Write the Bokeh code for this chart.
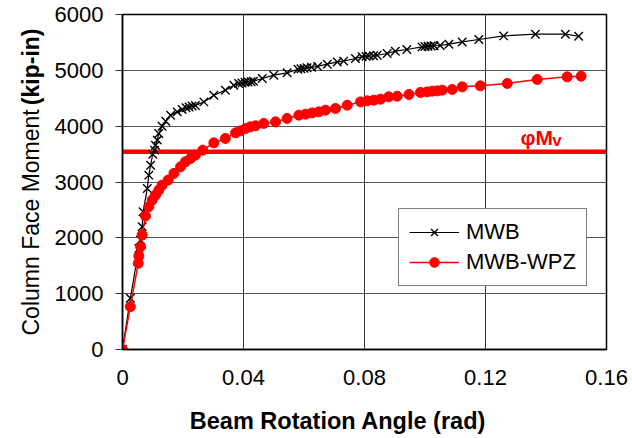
import math
from bokeh.plotting import figure
from bokeh.layouts import row, column
from bokeh.models import Range1d, FixedTicker, NumeralTickFormatter, Span, Label, Legend, LegendItem
from bokeh.core.properties import value
from bokeh.embed import file_html
from bokeh.resources import INLINE

# ---- data ----
mwb_rot = [0, 0.0026, 0.0054, 0.0060, 0.0065, 0.0068, 0.0082, 0.0087, 0.0093, 0.0100,
           0.0106, 0.0109, 0.0115, 0.0120, 0.0131, 0.0143, 0.0159, 0.0181, 0.0197, 0.0210,
           0.0220, 0.0230, 0.0241, 0.0269, 0.0302, 0.0340, 0.0368, 0.0384, 0.0395, 0.0405,
           0.0415, 0.0425, 0.0433, 0.0462, 0.0500, 0.0544, 0.0580, 0.0590, 0.0600, 0.0610,
           0.0625, 0.0645, 0.0677, 0.0710, 0.0731, 0.0770, 0.0792, 0.0805, 0.0815, 0.0830,
           0.0842, 0.0875, 0.0902, 0.0940, 0.0990, 0.1000, 0.1010, 0.1020, 0.1030, 0.1050,
           0.1079, 0.1123, 0.1178, 0.1260, 0.1365, 0.1464, 0.1508]
mwb_mom = [0, 916, 1811, 1960, 2198, 2466, 2885, 3123, 3302, 3499,
           3571, 3660, 3750, 3870, 4000, 4090, 4197, 4256, 4299, 4330,
           4345, 4360, 4370, 4435, 4555, 4645, 4734, 4765, 4775, 4785,
           4790, 4795, 4805, 4854, 4913, 4955, 5020, 5030, 5035, 5045,
           5055, 5070, 5110, 5151, 5165, 5212, 5245, 5250, 5255, 5260,
           5270, 5301, 5343, 5373, 5420, 5425, 5430, 5435, 5440, 5445,
           5468, 5509, 5552, 5617, 5647, 5647, 5611]

wpz_rot = [0, 0.0026, 0.0052, 0.0054, 0.0060, 0.0065, 0.0076, 0.0087, 0.0098, 0.0109,
           0.0120, 0.0131, 0.0151, 0.0170, 0.0192, 0.0208, 0.0225, 0.0241, 0.0265, 0.0302,
           0.0340, 0.0374, 0.0390, 0.0407, 0.0423, 0.0440, 0.0467, 0.0506, 0.0544, 0.0583,
           0.0605, 0.0627, 0.0649, 0.0671, 0.0704, 0.0743, 0.0787, 0.0809, 0.0831, 0.0853,
           0.0880, 0.0908, 0.0947, 0.0985, 0.1007, 0.1024, 0.1040, 0.1057, 0.1090, 0.1123,
           0.1183, 0.1272, 0.1371, 0.1470, 0.1516]
wpz_mom = [0, 766, 1543, 1673, 1840, 2049, 2390, 2556, 2676, 2765,
           2855, 2944, 3034, 3154, 3272, 3361, 3422, 3481, 3570, 3701,
           3780, 3880, 3916, 3959, 3988, 4006, 4049, 4077, 4138, 4197,
           4215, 4238, 4256, 4287, 4317, 4376, 4435, 4453, 4466, 4484,
           4525, 4537, 4568, 4604, 4614, 4627, 4632, 4645, 4657, 4704,
           4722, 4765, 4836, 4883, 4895]

phi_My = 3540
x_ticks = [0, 0.04, 0.08, 0.12, 0.16]
y_ticks = [0, 1000, 2000, 3000, 4000, 5000, 6000]
series_names = ["MWB", "MWB-WPZ"]
x_title = "Beam Rotation Angle (rad)"
y_title_normal = "Column Face Moment"
y_title_bold = "(kip-in)"

FONT = "Liberation Sans"
W, H = 632, 438
LEFT_W = 45
BOTTOM_H = 43
MAIN_H = H - BOTTOM_H
TOP_B, BOT_B = 14, 46
FRAME_H = MAIN_H - TOP_B - BOT_B
FRAME_BOTTOM = TOP_B + FRAME_H  # page y of the frame bottom

# ---- main plot ----
p = figure(width=W - LEFT_W, height=MAIN_H, output_backend="svg", toolbar_location=None,
           x_range=Range1d(x_ticks[0], x_ticks[-1]), y_range=Range1d(y_ticks[0], y_ticks[-1]),
           min_border_left=122 - LEFT_W, min_border_right=26, min_border_top=TOP_B,
           min_border_bottom=BOT_B)
p.background_fill_color = "white"
p.border_fill_color = "white"
p.outline_line_color = "black"
p.outline_line_width = 1.5

p.xaxis.ticker = FixedTicker(ticks=x_ticks)
p.yaxis.ticker = FixedTicker(ticks=y_ticks)
p.xaxis.formatter = NumeralTickFormatter(format="0.[00]")
for ax in (p.xaxis, p.yaxis):
    ax.axis_line_color = "black"
    ax.axis_line_width = 1.5
    ax.minor_tick_line_color = None
    ax.major_label_text_font = FONT
    ax.major_label_text_font_size = "22px"
    ax.major_label_text_color = "black"
    ax.major_tick_line_color = "#333333"
    ax.major_tick_in = 0
p.xaxis.major_tick_out = 0
p.xaxis.major_label_standoff = 20
p.yaxis.major_tick_out = 7
p.yaxis.major_label_standoff = 12

p.xgrid.ticker = FixedTicker(ticks=x_ticks)
p.ygrid.ticker = FixedTicker(ticks=y_ticks)
p.xgrid.grid_line_color = "#333333"
p.ygrid.grid_line_color = "#555555"
p.xgrid.grid_line_width = 1
p.ygrid.grid_line_width = 1

p.add_layout(Span(location=phi_My, dimension="width", line_color="#ff0000",
                  line_width=4.5, level="underlay"))

l1 = p.line(mwb_rot, mwb_mom, line_color="black", line_width=1.2)
s1 = p.scatter(mwb_rot, mwb_mom, marker="x", size=12, line_color="black", line_width=1.4)
l2 = p.line(wpz_rot, wpz_mom, line_color="#ff0000", line_width=1.5)
s2 = p.scatter(wpz_rot, wpz_mom, marker="circle", size=10, fill_color="#ff0000",
               line_color="#ff0000")

legend = Legend(items=[LegendItem(label=series_names[0], renderers=[l1, s1]),
                       LegendItem(label=series_names[1], renderers=[l2, s2])],
                location=(276, 63), orientation="vertical")
legend.border_line_color = "black"
legend.border_line_width = 1
legend.background_fill_color = "white"
legend.background_fill_alpha = 1
legend.label_text_font = FONT
legend.label_text_font_size = "22px"
legend.label_text_color = "black"
legend.padding = 10
legend.spacing = 4
legend.margin = 0
legend.glyph_height = 24
legend.label_height = 24
legend.glyph_width = 50
legend.label_standoff = 7
legend.label_width = 110
p.add_layout(legend, "center")

p.add_layout(Label(x=0.1316, y=3790, text="φM", text_font=FONT, text_font_size="21px",
                   text_font_style="bold", text_color="#ff0000",
                   text_align="left", text_baseline="alphabetic"))
p.add_layout(Label(x=0.1421, y=3750, text="v", text_font=FONT, text_font_size="17px",
                   text_font_style="bold", text_color="#ff0000",
                   text_align="left", text_baseline="alphabetic"))

# ---- left strip with the y title (same vertical borders as the main plot) ----
fl = figure(width=LEFT_W, height=MAIN_H, output_backend="svg", toolbar_location=None,
            x_range=Range1d(0, LEFT_W), y_range=Range1d(0, FRAME_H),
            x_axis_type=None, y_axis_type=None,
            min_border_left=0, min_border_right=0, min_border_top=TOP_B,
            min_border_bottom=BOT_B)
fl.grid.visible = False
fl.outline_line_color = None
fl.background_fill_color = "white"
fl.border_fill_color = "white"
fl.text(x=[30], y=[FRAME_BOTTOM - 335], text=[y_title_normal], angle=math.pi / 2,
        text_font=value(FONT), text_font_size=value("23px"), text_color="black",
        text_align="left", text_baseline="middle")
fl.text(x=[30], y=[FRAME_BOTTOM - 28], text=[y_title_bold], angle=math.pi / 2,
        text_font=value(FONT), text_font_size=value("23px"), text_font_style="bold",
        text_color="black", text_align="right", text_baseline="middle")

# ---- bottom strip with the x title ----
fb = figure(width=W, height=BOTTOM_H, output_backend="svg", toolbar_location=None,
            x_range=Range1d(0, W), y_range=Range1d(0, BOTTOM_H),
            x_axis_type=None, y_axis_type=None,
            min_border_left=0, min_border_right=0, min_border_top=0, min_border_bottom=0)
fb.grid.visible = False
fb.outline_line_color = None
fb.background_fill_color = "white"
fb.border_fill_color = "white"
fb.text(x=[337.5], y=[17.5], text=[x_title],
        text_font=value(FONT), text_font_size=value("23.5px"), text_font_style="bold",
        text_color="black", text_align="center", text_baseline="alphabetic")

layout = column(row(fl, p, spacing=0), fb, spacing=0)

open("out.html", "w").write(file_html(layout, INLINE))
